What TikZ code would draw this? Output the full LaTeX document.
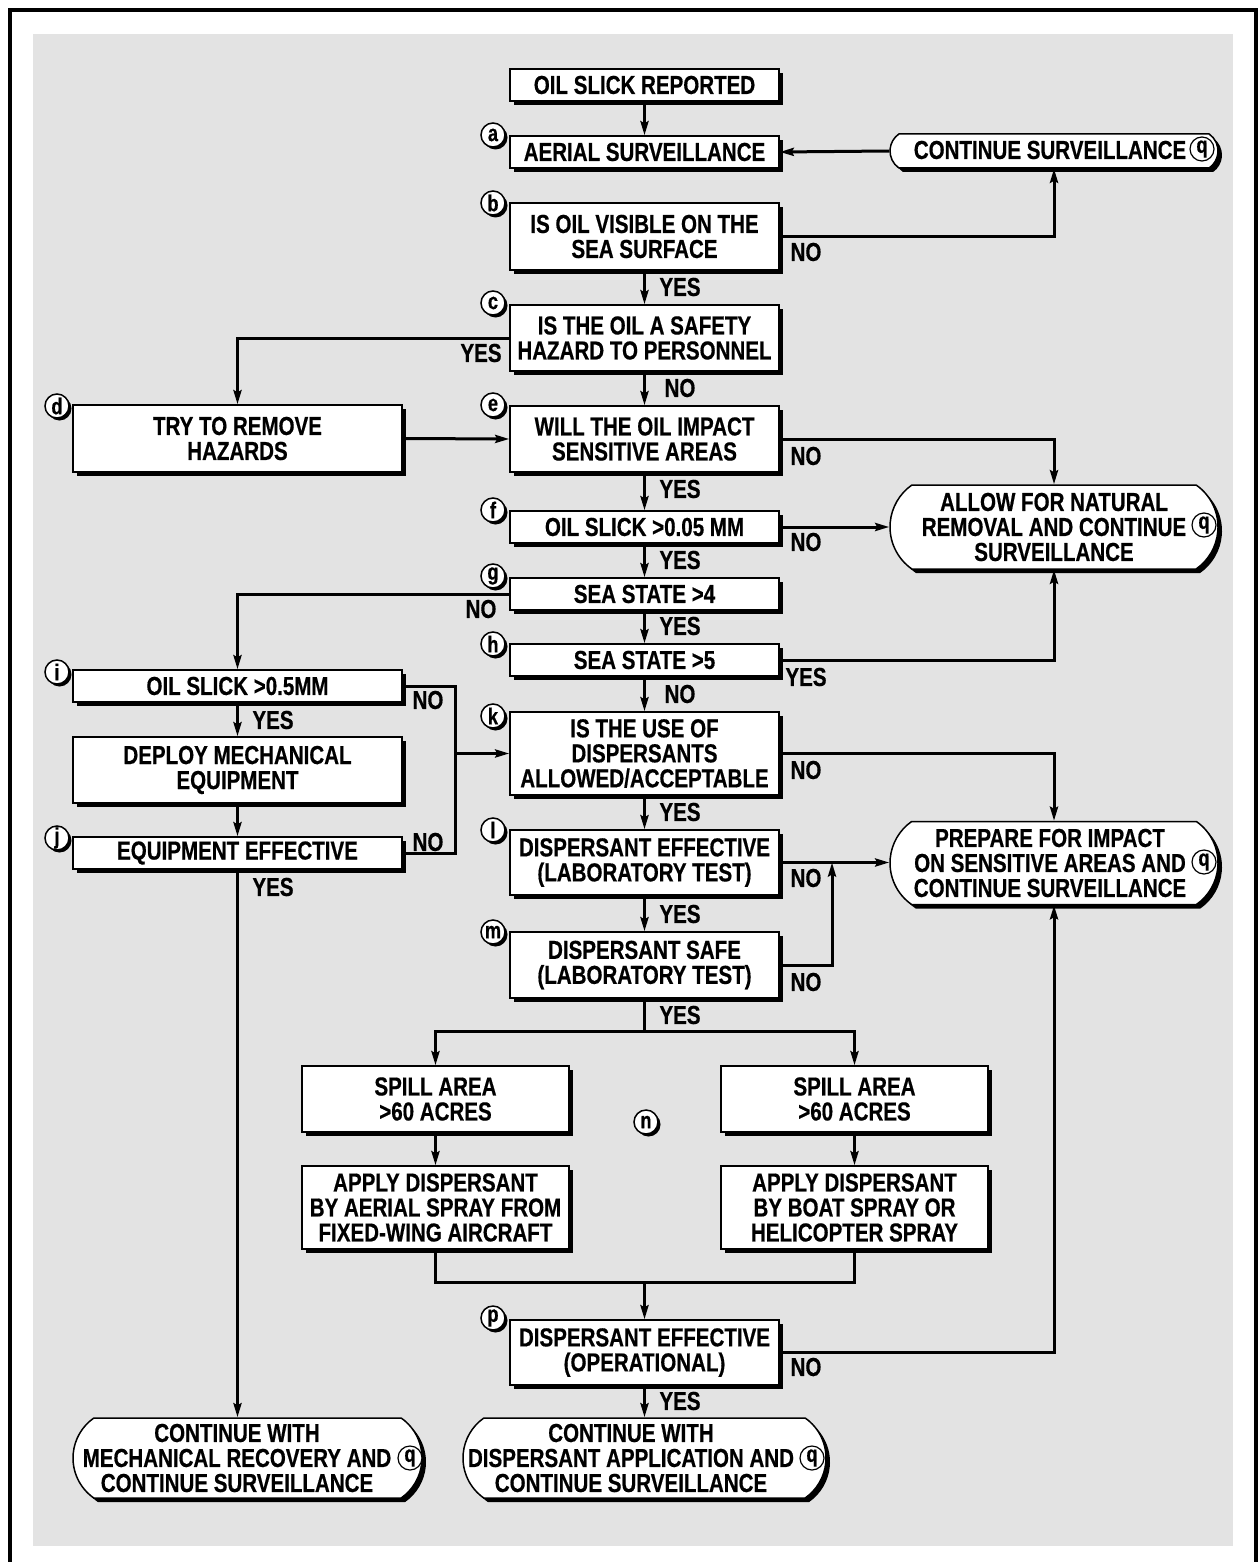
\documentclass[tikz,border=0pt]{standalone}
\usepackage{fontspec}
\setmainfont{Liberation Sans}[FakeStretch=0.79,BoldFeatures={FakeBold=0.5}]
\usetikzlibrary{arrows.meta,shapes.misc,shadows}
\definecolor{bggrey}{HTML}{E3E3E3}
\begin{document}
\begin{tikzpicture}[x=1pt,y=-1pt,
  txtfont/.style={font=\fontsize{26}{25}\selectfont\bfseries},
  box/.style={txtfont,draw,fill=white,line width=1.5pt,align=center,inner sep=0pt,
    minimum width=269pt,
    drop shadow={shadow xshift=4pt,shadow yshift=-4pt,fill=black,opacity=1}},
  lbox/.style={box,minimum width=329pt},
  sbox/.style={box,minimum width=267pt},
  term/.style={draw,fill=white,line width=1.5pt,rounded rectangle,
    rounded rectangle arc length=110,inner sep=0pt,
    drop shadow={shadow xshift=4pt,shadow yshift=-4pt,fill=black,opacity=1}},
  ttext/.style={txtfont,align=center,inner sep=0pt},
  yn/.style={txtfont,inner sep=0pt},
  tag/.style={circle,draw,fill=white,line width=1.5pt,minimum size=24pt,inner sep=0pt,
    font=\fontsize{23}{23}\selectfont\bfseries,
    drop shadow={shadow xshift=2.5pt,shadow yshift=-2.5pt,fill=black,opacity=1}},
  qtag/.style={circle,draw,fill=white,line width=1.2pt,minimum size=24pt,inner sep=0pt,
    font=\fontsize{23}{23}\selectfont\bfseries},
  conn/.style={line width=3pt},
  arr/.style={conn,-{Stealth[length=14pt,width=8pt,inset=2pt]}}
]
\useasboundingbox (0,0) rectangle (1258,1562);
\fill[white] (0,0) rectangle (1258,1562);
\fill[bggrey] (33,34) rectangle (1233,1546);
\draw[line width=4pt] (10,1562) -- (10,10) -- (1256,10) -- (1256,1562);

% main column
\node[box,minimum height=32pt] (osr) at (644.5,85) {OIL SLICK REPORTED};
\node[box,minimum height=32pt] (a) at (644.5,152) {AERIAL SURVEILLANCE};
\node[box,minimum height=67pt] (b) at (644.5,236.5) {IS OIL VISIBLE ON THE\\SEA SURFACE};
\node[box,minimum height=66pt] (c) at (644.5,338) {IS THE OIL A SAFETY\\HAZARD TO PERSONNEL};
\node[box,minimum height=66pt] (e) at (644.5,439) {WILL THE OIL IMPACT\\SENSITIVE AREAS};
\node[box,minimum height=32pt] (f) at (644.5,527) {OIL SLICK >0.05 MM};
\node[box,minimum height=32pt] (g) at (644.5,594) {SEA STATE >4};
\node[box,minimum height=32pt] (h) at (644.5,660) {SEA STATE >5};
\node[box,minimum height=83pt] (k) at (644.5,753.5) {IS THE USE OF\\DISPERSANTS\\ALLOWED/ACCEPTABLE};
\node[box,minimum height=65pt] (l) at (644.5,862.5) {DISPERSANT EFFECTIVE\\(LABORATORY TEST)};
\node[box,minimum height=66pt] (m) at (644.5,965) {DISPERSANT SAFE\\(LABORATORY TEST)};
\node[sbox,minimum height=66pt] (sl) at (435.5,1099) {SPILL AREA\\>60 ACRES};
\node[sbox,minimum height=66pt] (sr) at (854.5,1099) {SPILL AREA\\>60 ACRES};
\node[sbox,minimum height=83pt] (al) at (435.5,1207.5) {APPLY DISPERSANT\\BY AERIAL SPRAY FROM\\FIXED-WING AIRCRAFT};
\node[sbox,minimum height=83pt] (ar) at (854.5,1207.5) {APPLY DISPERSANT\\BY BOAT SPRAY OR\\HELICOPTER SPRAY};
\node[box,minimum height=65pt] (p) at (644.5,1352.5) {DISPERSANT EFFECTIVE\\(OPERATIONAL)};

% left column
\node[lbox,minimum height=67pt] (d) at (237.5,438.5) {TRY TO REMOVE\\HAZARDS};
\node[lbox,minimum height=32pt] (i) at (237.5,686) {OIL SLICK >0.5MM};
\node[lbox,minimum height=66pt] (dep) at (237.5,770) {DEPLOY MECHANICAL\\EQUIPMENT};
\node[lbox,minimum height=32pt] (j) at (237.5,853) {EQUIPMENT EFFECTIVE};

% terminals
\node[term,minimum width=328pt,minimum height=34pt] (cs) at (1054,151) {};
\node[ttext] (cst) at (1050,150) {CONTINUE SURVEILLANCE};
\node[term,minimum width=328pt,minimum height=84pt] (an) at (1054,527) {};
\node[ttext] (ant) at (1054,527) {ALLOW FOR NATURAL\\REMOVAL AND CONTINUE\\SURVEILLANCE};
\node[term,minimum width=328pt,minimum height=83pt] (pi) at (1054,863) {};
\node[ttext] (pit) at (1050,863) {PREPARE FOR IMPACT\\ON SENSITIVE AREAS AND\\CONTINUE SURVEILLANCE};
\node[term,minimum width=363pt,minimum height=80pt] (tr) at (644.5,1458) {};
\node[ttext] (trt) at (631,1458) {CONTINUE WITH\\DISPERSANT APPLICATION AND\\CONTINUE SURVEILLANCE};
\node[term,minimum width=349pt,minimum height=80pt] (tl) at (247.5,1458) {};
\node[ttext] (tlt) at (237,1458) {CONTINUE WITH\\MECHANICAL RECOVERY AND\\CONTINUE SURVEILLANCE};

% q tags
\node[qtag] (q1) at (1202,149) {q};
\node[qtag] (q2) at (1204,525) {q};
\node[qtag] (q3) at (1204,862) {q};
\node[qtag] (q4) at (812,1458) {q};
\node[qtag] (q5) at (410,1458) {q};

% letter tags
\node[tag] (ta) at (493,135) {a};
\node[tag] (tb) at (493,203) {b};
\node[tag] (tc) at (493,303) {c};
\node[tag] (td) at (57,406) {d};
\node[tag] (te) at (493,405) {e};
\node[tag] (tf) at (493,510) {f};
\node[tag] (tg) at (493,576) {g};
\node[tag] (th) at (493,644) {h};
\node[tag] (ti) at (57,672) {i};
\node[tag] (tj) at (57,838) {j};
\node[tag] (tk) at (493,716) {k};
\node[tag] (tlab) at (493,830) {l};
\node[tag] (tm) at (493,932) {m};
\node[tag] (tn) at (646,1122) {n};
\node[tag] (tp) at (493,1318) {p};

% junction coordinates
\coordinate (jx) at (455,753.5);
\coordinate (mx) at (832,862.5);
\coordinate (ms) at (644.5,1031);
\coordinate (am) at (644.5,1282);

% connectors
\draw[arr] (osr) -- (a);
\draw[arr] (cs.west) -- (a.east);
\draw[arr] (b.east) -| (cs.south);
\draw[arr] (b) -- (c);
\draw[arr] (c.west) -| (d.north);
\draw[arr] (c) -- (e);
\draw[arr] (d.east) -- (e.west);
\draw[arr] (e.east) -| (an.north);
\draw[arr] (e) -- (f);
\draw[arr] (f.east) -- (f.east -| an.west);
\draw[arr] (f) -- (g);
\draw[arr] (g.west) -| (i.north);
\draw[arr] (g) -- (h);
\draw[arr] (h.east) -| (an.south);
\draw[arr] (h) -- (k);
\draw[conn] (i.east) -| (jx);
\draw[conn] (j.east) -| (jx);
\draw[arr] (jx) -- (k.west);
\draw[arr] (i) -- (dep);
\draw[arr] (dep) -- (j);
\draw[arr] (j.south) -- (j.south |- tl.north);
\draw[arr] (k.east) -| (pi.north);
\draw[arr] (k) -- (l);
\draw[arr] (l.east) -- (l.east -| pi.west);
\draw[arr] (m.east) -| (mx);
\draw[arr] (l) -- (m);
\draw[conn] (m.south) -- (ms);
\draw[arr] (ms) -| (sl.north);
\draw[arr] (ms) -| (sr.north);
\draw[arr] (sl) -- (al);
\draw[arr] (sr) -- (ar);
\draw[conn] (al.south) |- (am);
\draw[conn] (ar.south) |- (am);
\draw[arr] (am) -- (p.north);
\draw[arr] (p.east) -| (pi.south);
\draw[arr] (p) -- (tr);

% yes/no labels
\node[yn] (y1) at (680,287) {YES};
\node[yn] (n1) at (806,252) {NO};
\node[yn] (y2) at (481,353) {YES};
\node[yn] (n2) at (680,388) {NO};
\node[yn] (n3) at (806,456) {NO};
\node[yn] (y3) at (680,489) {YES};
\node[yn] (n4) at (806,542) {NO};
\node[yn] (y4) at (680,560) {YES};
\node[yn] (n5) at (481,609) {NO};
\node[yn] (y5) at (680,626) {YES};
\node[yn] (y6) at (806,677) {YES};
\node[yn] (n6) at (680,694) {NO};
\node[yn] (n7) at (428,700) {NO};
\node[yn] (y7) at (273,720) {YES};
\node[yn] (n8) at (428,842) {NO};
\node[yn] (y8) at (273,887) {YES};
\node[yn] (n9) at (806,770) {NO};
\node[yn] (y9) at (680,812) {YES};
\node[yn] (n10) at (806,878) {NO};
\node[yn] (y10) at (680,914) {YES};
\node[yn] (n11) at (806,982) {NO};
\node[yn] (y11) at (680,1015) {YES};
\node[yn] (n12) at (806,1367) {NO};
\node[yn] (y12) at (680,1401) {YES};
\end{tikzpicture}
\end{document}
